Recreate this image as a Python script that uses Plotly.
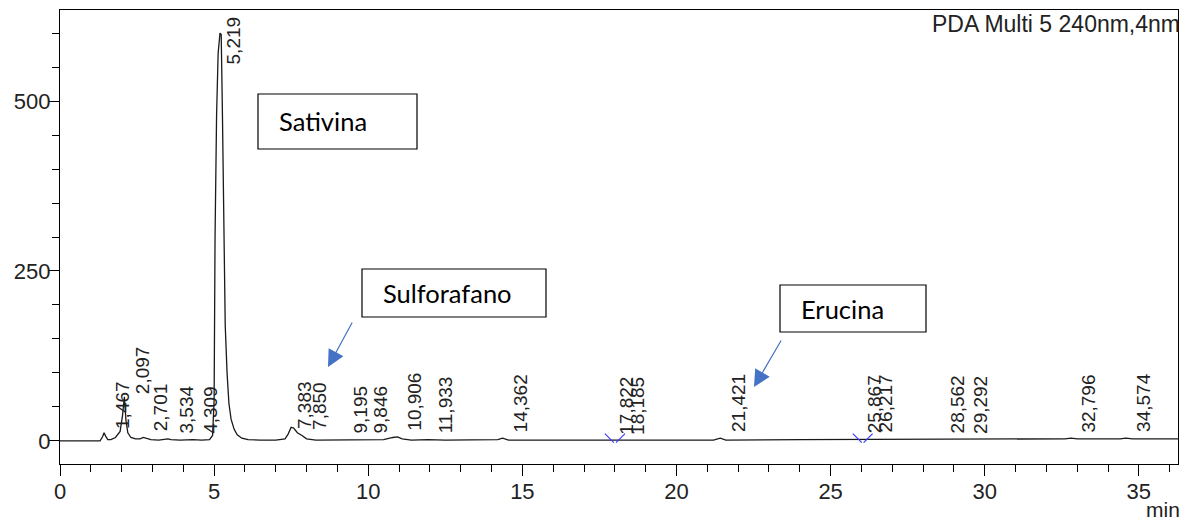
import numpy as np
import plotly.graph_objects as go

# chromatogram trace (min, mAU)
time_min = [
    0.00, 1.00, 1.30, 1.38, 1.43, 1.48, 1.55, 1.65, 1.80, 1.95, 2.03, 2.09, 2.14,
    2.20, 2.30, 2.45, 2.60, 2.70, 2.80, 2.95, 3.20, 3.50, 3.60, 3.90, 4.30, 4.60,
    4.85, 4.95, 5.00, 5.03, 5.08, 5.13, 5.19, 5.23, 5.27, 5.31, 5.36, 5.42, 5.48,
    5.55, 5.65, 5.75, 5.90, 6.10, 6.50, 7.00, 7.30, 7.40, 7.50, 7.58, 7.70, 7.85,
    8.00, 8.30, 9.00, 9.20, 9.85, 10.50, 10.80, 10.95, 11.10, 11.40, 11.93, 12.50,
    14.20, 14.36, 14.55, 16.00, 17.82, 18.19, 21.20, 21.42, 21.60, 24.00, 25.87,
    26.22, 28.56, 29.29, 30.00, 32.60, 32.80, 33.00, 34.40, 34.57, 34.80, 36.30,
]
absorbance = [
    0, 0, 0, 6, 12, 7, 2, 2, 5, 14, 38, 65, 30,
    12, 5, 3, 3, 5, 4, 2, 1, 3, 2, 1, 2, 1,
    2, 8, 60, 300, 480, 570, 600, 598, 480, 300, 170, 100, 55,
    32, 17, 9, 4, 2, 1, 1, 3, 10, 20, 19, 12, 8,
    3, 1, 1, 2, 2, 2, 5, 6, 3, 1, 2, 1,
    2, 4, 1, 1, 0, 0, 1, 4, 1, 2, 2,
    3, 2, 2, 2, 3, 4, 3, 3, 4, 3, 3,
]

peak_times = [1.467, 2.097, 2.701, 3.534, 4.309, 5.219, 7.383, 7.850, 9.195,
              9.846, 10.906, 11.933, 14.362, 17.822, 18.185, 21.421, 25.867,
              26.217, 28.562, 29.292, 32.796, 34.574]
peak_labels = ["1,467", "2,097", "2,701", "3,534", "4,309", "5,219", "7,383",
               "7,850", "9,195", "9,846", "10,906", "11,933", "14,362", "17,822",
               "18,185", "21,421", "25,867", "26,217", "28,562", "29,292",
               "32,796", "34,574"]

# peak start / end marks drawn in blue
mark_times = [17.822, 18.185, 25.867, 26.217]
mark_kind = ["start", "end", "start", "end"]

compounds = ["Sativina", "Sulforafano", "Erucina"]

W, H = 1184, 525
L, R, T, B = 60, 6, 10, 61
pw, ph = W - L - R, H - T - B


def px(x):
    return (x - L) / pw


def py(y):
    return (H - B - y) / ph


fig = go.Figure()
fig.add_trace(go.Scatter(
    x=time_min, y=absorbance, mode="lines",
    line=dict(color="#1a1a1a", width=1.3), hoverinfo="skip",
))
fig.add_trace(go.Scatter(
    x=mark_times, y=[4] * len(mark_times), mode="markers",
    marker=dict(symbol=["line-nw" if k == "start" else "line-ne" for k in mark_kind],
                size=9, line=dict(color="#3b3bff", width=1.2)),
    hoverinfo="skip",
))

lab_font = dict(family="Liberation Sans, Arial", size=19, color="#222")
for t, lab in zip(peak_times, peak_labels):
    v = float(np.interp(t, time_min, absorbance))
    if v > 300:
        # main peak: label hangs beside the apex
        fig.add_annotation(x=t, y=v, text=lab, textangle=-90, showarrow=False,
                           xanchor="left", yanchor="top", xshift=0, yshift=20,
                           font=lab_font)
    else:
        fig.add_annotation(x=t, y=v, text=lab, textangle=-90, showarrow=False,
                           xanchor="left", yanchor="bottom", xshift=5, yshift=4,
                           font=lab_font)

# label boxes and arrows
boxes = [(258, 94, 417, 149), (362, 269, 546, 317), (780, 285, 926, 332)]
for name, (x0, y0, x1, y1) in zip(compounds, boxes):
    fig.add_shape(type="rect", xref="paper", yref="paper",
                  x0=px(x0), x1=px(x1), y0=py(y1), y1=py(y0),
                  line=dict(color="#000", width=1.2), fillcolor="white", layer="above")
    fig.add_annotation(xref="paper", yref="paper", x=px(x0 + 19), y=py((y0 + y1) / 2),
                       text=name, showarrow=False, xanchor="left", yanchor="middle",
                       font=dict(family="Lato, Noto Sans", size=25.5, color="#000"))

for tip, off in [((328, 367), (25, -46)), ((754, 387), (28, -48))]:
    fig.add_annotation(xref="paper", yref="paper", x=px(tip[0]), y=py(tip[1]),
                       ax=off[0], ay=off[1], text="", showarrow=True,
                       arrowhead=2, arrowsize=2.8, arrowwidth=1.2, arrowcolor="#4472C4")

fig.add_annotation(xref="paper", yref="paper", x=1, y=1, xanchor="right", yanchor="top",
                   xshift=4, yshift=1, text="PDA Multi 5 240nm,4nm", showarrow=False,
                   font=dict(family="Liberation Sans, Arial", size=23, color="#222"))
fig.add_annotation(xref="paper", yref="paper", x=1, y=py(510), xanchor="right",
                   yanchor="middle", xshift=4, text="min", showarrow=False,
                   font=dict(family="Liberation Sans, Arial", size=21, color="#222"))

axis_common = dict(showgrid=False, zeroline=False, showline=True, mirror=True,
                   linecolor="#000", linewidth=1.2, ticks="outside", tickcolor="#000",
                   tickfont=dict(family="Liberation Sans, Arial", size=22, color="#222"))
fig.update_xaxes(range=[0, 36.27], tick0=0, dtick=5, ticklen=11, ticklabelstandoff=-4,
                 minor=dict(dtick=1, ticks="outside", ticklen=7, tickcolor="#000"),
                 **axis_common)
fig.update_yaxes(range=[-34, 634], tickvals=[0, 250, 500], ticklen=10,
                 ticklabelstandoff=-6,
                 minor=dict(dtick=50, ticks="outside", ticklen=7, tickcolor="#000"),
                 **axis_common)
fig.update_layout(width=W, height=H, margin=dict(l=L, r=R, t=T, b=B, autoexpand=False),
                  plot_bgcolor="white", paper_bgcolor="white", showlegend=False)

fig.write_html("out.html", config={"displayModeBar": False},
               post_script="document.body.style.margin='0';document.body.style.overflow='hidden';")
